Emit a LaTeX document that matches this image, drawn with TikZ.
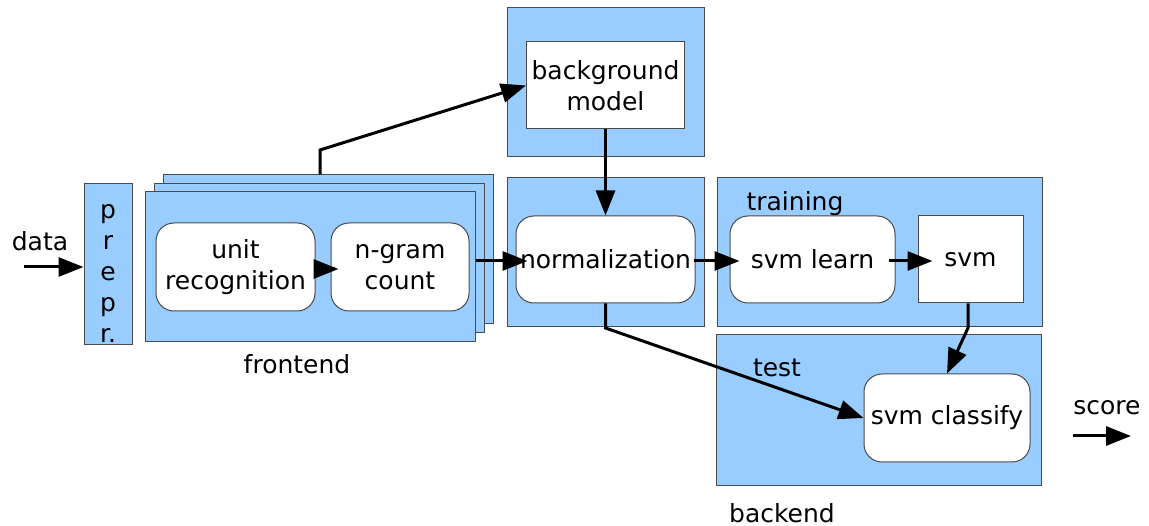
\documentclass[tikz,border=0pt]{standalone}
\usepackage{fontspec}
\setmainfont{DejaVu Sans}
\usetikzlibrary{arrows.meta}
\definecolor{boxblue}{HTML}{99CCFF}
\definecolor{edgegray}{HTML}{4A4A4A}
\begin{document}
\begin{tikzpicture}[x=1pt,y=-1pt,
  every node/.style={font=\fontsize{25}{30.5}\selectfont, inner sep=0pt},
  outerbox/.style={draw=edgegray, fill=boxblue, line width=1pt, rectangle},
  sqbox/.style={draw=edgegray, fill=white, line width=1pt, rectangle, align=center},
  rbox/.style={sqbox, rounded corners=18pt},
  conn/.style={line width=3pt, -{Triangle[length=25pt,width=19pt]}},
  lbl/.style={anchor=base}]
\useasboundingbox (0,0) rectangle (1149,526);

% preprocessing
\node[outerbox, minimum width=48pt, minimum height=161pt] (prepr) at (108,264.5) {};
\node[align=center, font=\fontsize{25}{31}\selectfont] (preprtext) at (108,273.5) {p\\r\\e\\p\\r.};

% frontend stack
\node[outerbox, minimum width=330pt, minimum height=149pt] (fe3) at (328,249.5) {};
\node[outerbox, minimum width=330pt, minimum height=149pt] (fe2) at (319,258.5) {};
\node[outerbox, minimum width=330pt, minimum height=150pt] (fe1) at (310,267) {};
\node[rbox, minimum width=159pt, minimum height=88pt] (unit) at (235.5,267) {unit\\recognition};
\node[rbox, minimum width=138pt, minimum height=88pt] (ngram) at (400,267) {n-gram\\count};

% background model
\node[outerbox, minimum width=197pt, minimum height=149pt] (bgout) at (605.5,82.5) {};
\node[sqbox, minimum width=158pt, minimum height=87pt] (bgm) at (605.5,85.5) {background\\model};

% normalization
\node[outerbox, minimum width=197pt, minimum height=149pt] (normout) at (605.5,252.5) {};
\node[rbox, minimum width=179pt, minimum height=87pt] (norm) at (605.5,259.5) {normalization};

% training
\node[outerbox, minimum width=325pt, minimum height=149pt] (trainout) at (879.5,252.5) {};
\node[rbox, minimum width=165pt, minimum height=87pt] (learn) at (812.5,259.5) {svm learn};
\node[sqbox, minimum width=105pt, minimum height=87pt] (svm) at (970.5,259.5) {svm};
\node[lbl] (traininglbl) at (795,211) {training};

% test
\node[outerbox, minimum width=325pt, minimum height=150pt] (testout) at (878.5,410) {};
\node[rbox, minimum width=166pt, minimum height=88pt] (classify) at (947,418) {svm classify};
\node[lbl] (testlbl) at (777,377) {test};

% outside labels
\node[lbl] (datalbl) at (40,251) {data};
\node[lbl] (frontendlbl) at (297,374) {frontend};
\node[lbl] (backendlbl) at (782,522) {backend};
\node[lbl] (scorelbl) at (1107,415) {score};

% free ends
\coordinate (datastart) at (24,267);
\coordinate (scorestart) at (1073,436);
\coordinate (scoreend) at (1131,436);
\coordinate (bend1) at (320,150);
\coordinate (bend2) at (605.5,328);
\coordinate (bend3) at (968,328);
\coordinate (midrow) at (0,261);

% connectors
\draw[conn] (datastart) -- (datastart -| prepr.west);
\draw[conn, shorten <=-19pt, shorten >=-8pt] ([yshift=-2pt]unit.east) -- ([yshift=-2pt]ngram.west);
\draw[conn, shorten >=-12pt] (fe1.east |- midrow) -- (norm.west |- midrow);
\draw[conn] (fe3.north -| bend1) -- (bend1) -- (bgm.west);
\draw[conn] (bgm.south) -- (norm.north);
\draw[conn, shorten <=-2pt, shorten >=-10pt] (norm.east |- midrow) -- (learn.west |- midrow);
\draw[conn, shorten <=-7pt, shorten >=-15pt] (learn.east |- midrow) -- (svm.west |- midrow);
\draw[conn] (norm.south) -- (bend2) -- (classify.west);
\draw[conn] (bend3 |- svm.south) -- (bend3) -- (classify.north);
\draw[conn] (scorestart) -- (scoreend);
\end{tikzpicture}
\end{document}
